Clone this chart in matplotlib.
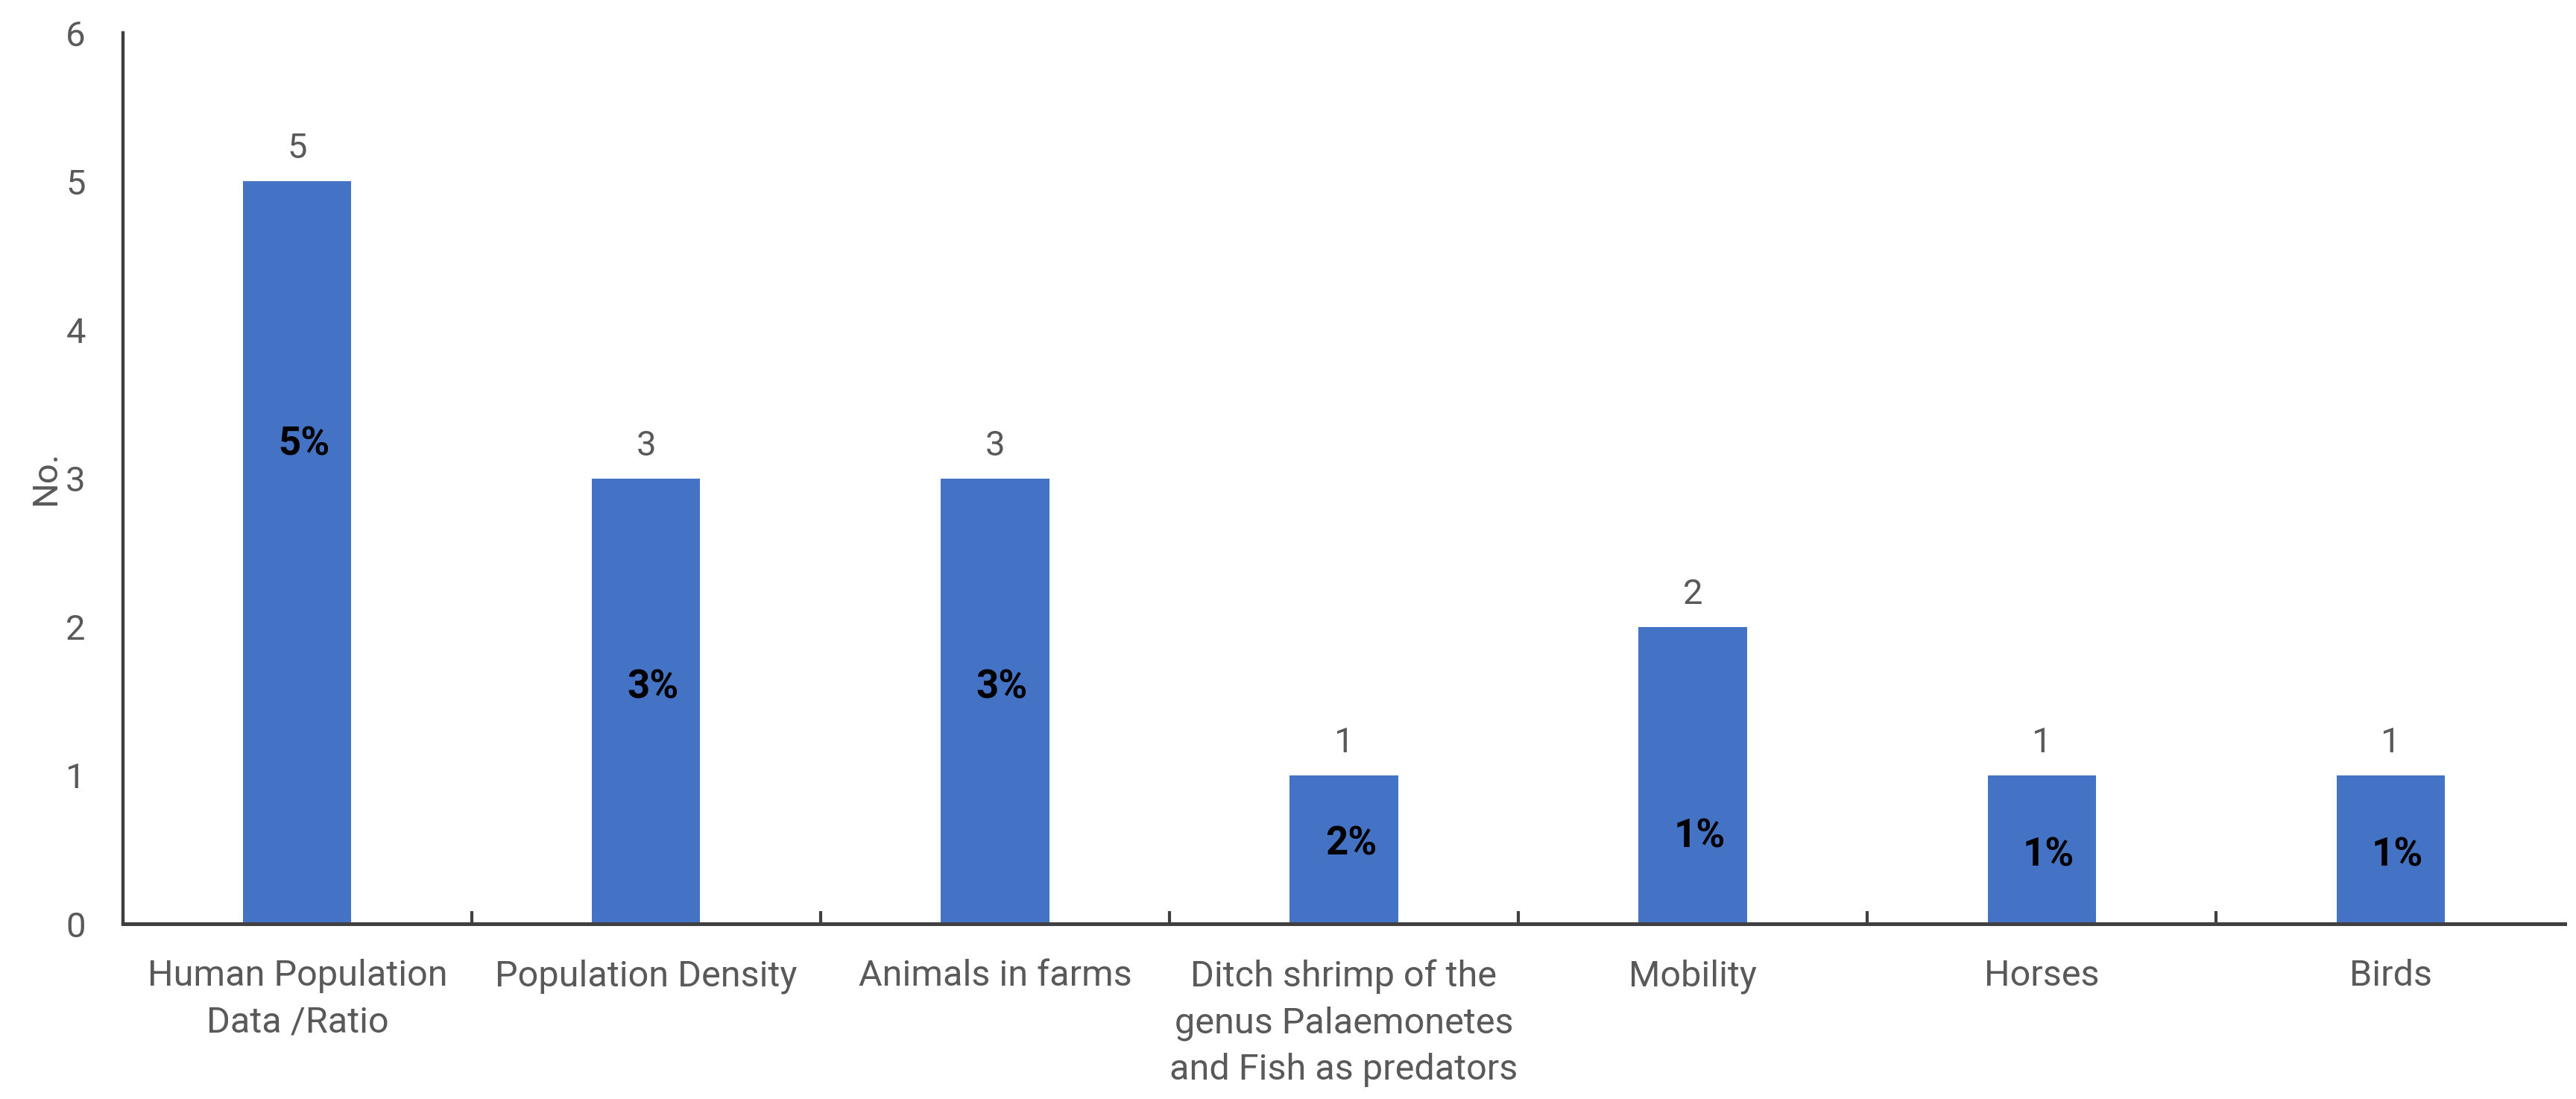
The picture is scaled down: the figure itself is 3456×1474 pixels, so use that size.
import matplotlib
matplotlib.use('Agg')
import matplotlib.pyplot as plt
from matplotlib.ticker import FixedLocator, NullFormatter

# datos
categories = ['Human Population\nData /Ratio', 'Population Density', 'Animals in farms',
              'Ditch shrimp of the\ngenus Palaemonetes\nand Fish as predators',
              'Mobility', 'Horses', 'Birds']
counts = [5, 3, 3, 1, 2, 1, 1]
pct_labels = ['5%', '3%', '3%', '2%', '1%', '1%', '1%']
pct_y = [3.23, 1.59, 1.59, 0.54, 0.59, 0.46, 0.46]  # posicion vertical de etiquetas internas

blue = '#4472C4'
grey = '#595959'
fam = 'Roboto'
fs = 17

fig = plt.figure(figsize=(17.28, 7.37), dpi=200)
ax = fig.add_axes([0.0477, 0.1594, 0.948, 0.8106])

x = list(range(len(categories)))
ax.bar(x, counts, width=0.31, color=blue, zorder=2)

for xi, c in zip(x, counts):
    ax.text(xi, c + 0.11, str(c), ha='center', va='bottom', fontsize=fs,
            color=grey, family=fam)
for xi, lab, yy in zip(x, pct_labels, pct_y):
    ax.text(xi + 0.02, yy, lab, ha='center', va='center', fontsize=fs + 2,
            fontweight='bold', color='black', family=fam)

ax.set_xlim(-0.5, len(categories) - 0.5)
ax.set_ylim(0, 6)
ax.set_yticks(range(7))
ax.tick_params(axis='y', length=0, pad=18, labelsize=fs, labelcolor=grey)
for t in ax.get_yticklabels():
    t.set_family(fam)

ax.set_xticks(x)
ax.set_xticklabels(categories, fontsize=fs + 0.5, color=grey, family=fam, linespacing=1.45)
ax.tick_params(axis='x', which='major', length=0, pad=17)
ax.xaxis.set_minor_locator(FixedLocator([i + 0.5 for i in range(len(categories) - 1)]))
ax.xaxis.set_minor_formatter(NullFormatter())
ax.tick_params(axis='x', which='minor', direction='in', length=6, width=1.5, color='#404040')

ax.set_ylabel('No.', fontsize=fs, color=grey, family=fam, labelpad=2)

for s in ['top', 'right']:
    ax.spines[s].set_visible(False)
ax.spines['left'].set_color('#404040')
ax.spines['left'].set_linewidth(1.6)
ax.spines['bottom'].set_color('#404040')
ax.spines['bottom'].set_linewidth(1.8)
ax.spines['left'].set_zorder(3)
ax.spines['bottom'].set_zorder(3)

fig.savefig('out.png', dpi=200, facecolor='white')
